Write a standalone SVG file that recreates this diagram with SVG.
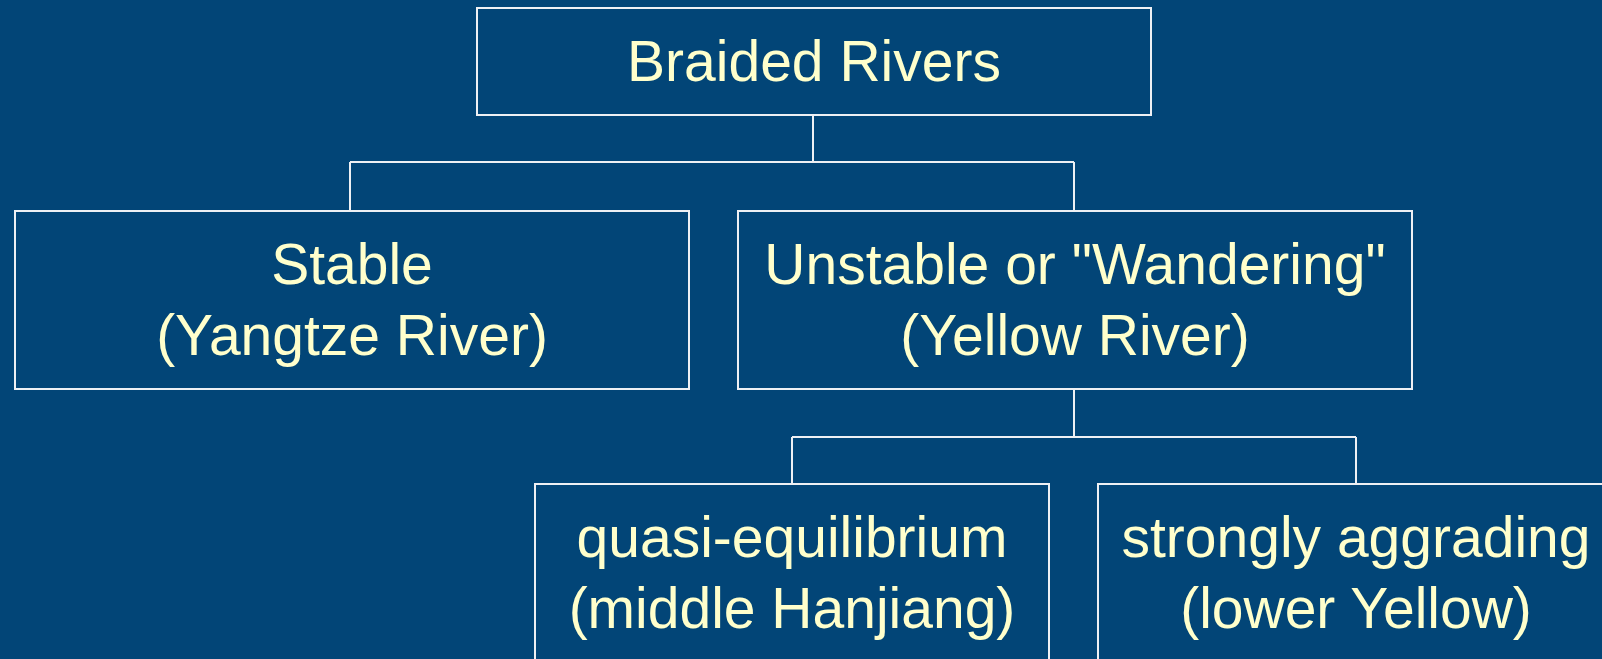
<svg xmlns="http://www.w3.org/2000/svg" width="1602" height="659" viewBox="0 0 1602 659">
  <style>
    .box { fill: #024577; stroke: #EEF0F4; stroke-width: 2; }
    .link { fill: none; stroke: #EEF0F4; stroke-width: 2; }
    .label { fill: #FFFFCC; font-family: "Liberation Sans", Arial, sans-serif; font-size: 57px; text-anchor: middle; }
  </style>
  <rect width="1602" height="659" fill="#024577"/>

  <!-- tree connectors -->
  <g id="connectors">
    <path class="link" d="M813,115 V162 M350,162 H1074 M350,162 V211 M1074,162 V211"/>
    <path class="link" d="M1074,389 V437 M792,437 H1356 M792,437 V484 M1356,437 V484"/>
  </g>

  <g id="braided-rivers">
    <rect class="box" x="477" y="8" width="674" height="107"/>
    <text class="label" x="814" y="81">Braided Rivers</text>
  </g>

  <g id="stable">
    <rect class="box" x="15" y="211" width="674" height="178"/>
    <text class="label" x="352" y="284">Stable</text>
    <text class="label" x="352" y="355">(Yangtze River)</text>
  </g>

  <g id="unstable">
    <rect class="box" x="738" y="211" width="674" height="178"/>
    <text class="label" x="1075" y="284">Unstable or "Wandering"</text>
    <text class="label" x="1075" y="355">(Yellow River)</text>
  </g>

  <g id="quasi-equilibrium">
    <rect class="box" x="535" y="484" width="514" height="178"/>
    <text class="label" x="792" y="557">quasi-equilibrium</text>
    <text class="label" x="792" y="628">(middle Hanjiang)</text>
  </g>

  <g id="strongly-aggrading">
    <rect class="box" x="1098" y="484" width="516" height="178"/>
    <text class="label" x="1356" y="557">strongly aggrading</text>
    <text class="label" x="1356" y="628">(lower Yellow)</text>
  </g>
</svg>
